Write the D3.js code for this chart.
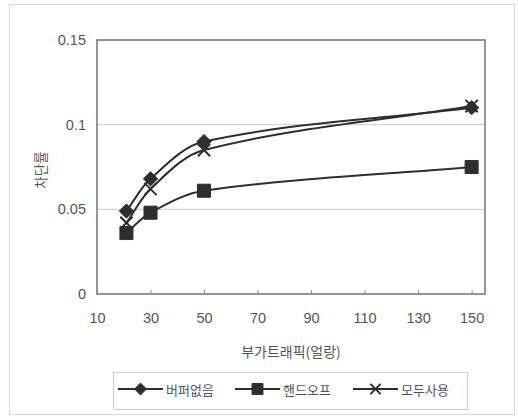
<!DOCTYPE html>
<html><head><meta charset="utf-8">
<script src="https://cdn.jsdelivr.net/npm/d3@7"></script>
<style>body{margin:0;background:#fff}svg{display:block}text{font-family:"Noto Sans CJK KR","Liberation Sans",Arial,sans-serif;fill:#555}</style>
</head><body><svg id="c" width="518" height="418"></svg>
<script>
const xValues = [21, 30, 50, 150];
const seriesNames = ["버퍼없음", "핸드오프", "모두사용"];
const noBuffer = [0.049, 0.068, 0.090, 0.110];
const handoff = [0.036, 0.048, 0.061, 0.075];
const allUsed = [0.042, 0.062, 0.085, 0.111];
const xTicks = [10, 30, 50, 70, 90, 110, 130, 150];
const yTicks = [0, 0.05, 0.1, 0.15];
const yTickLabels = ["0", "0.05", "0.1", "0.15"];
const xTitle = "부가트래픽(얼랑)";
const yTitle = "차단률";

// smoothed-line curve (chord-weighted Bezier, spreadsheet style)
function SmoothCurve(context) { this._context = context; }
SmoothCurve.prototype = {
  areaStart() {}, areaEnd() {},
  lineStart() { this._pts = []; },
  point(x, y) { this._pts.push([+x, +y]); },
  lineEnd() {
    const p = this._pts, n = p.length, c = this._context;
    if (!n) return;
    c.moveTo(p[0][0], p[0][1]);
    if (n === 1) return;
    const dist = (a, b) => Math.hypot(a[0] - b[0], a[1] - b[1]);
    const tan = i => { const a = p[Math.max(0, i - 1)], b = p[Math.min(n - 1, i + 1)]; return [b[0] - a[0], b[1] - a[1]]; };
    for (let i = 0; i < n - 1; i++) {
      const P0 = p[i], P1 = p[i + 1];
      const dPrev0 = i > 0 ? dist(p[i - 1], P0) : 0, dSeg = dist(P0, P1);
      const dNext1 = i + 2 < n ? dist(P1, p[i + 2]) : 0;
      const t0 = tan(i), t1 = tan(i + 1);
      const f0 = dSeg / (dPrev0 + dSeg) / 3, f1 = dSeg / (dSeg + dNext1) / 3;
      c.bezierCurveTo(P0[0] + t0[0] * f0, P0[1] + t0[1] * f0,
                      P1[0] - t1[0] * f1, P1[1] - t1[1] * f1, P1[0], P1[1]);
    }
  }
};
const curveSmooth = ctx => new SmoothCurve(ctx);

const svg = d3.select("#c");
const m = {l: 97, r: 485, t: 40, b: 294};
const x = d3.scaleLinear().domain([10, 155]).range([m.l, m.r]);
const y = d3.scaleLinear().domain([0, 0.15]).range([m.b, m.t]);
const numFont = "'Liberation Sans', Arial, sans-serif";

svg.append("rect").attr("x", 9.5).attr("y", 4.5).attr("width", 505).attr("height", 410)
  .attr("fill", "#fff").attr("stroke", "#d8d8d8");

svg.append("g").selectAll("line").data(yTicks.slice(1, -1)).join("line")
  .attr("x1", m.l).attr("x2", m.r).attr("y1", d => y(d)).attr("y2", d => y(d))
  .attr("stroke", "#cacaca").attr("stroke-width", 1);

svg.append("rect").attr("x", m.l).attr("y", m.t).attr("width", m.r - m.l).attr("height", m.b - m.t)
  .attr("fill", "none").attr("stroke", "#8a8a8a").attr("stroke-width", 1.8);

const xAxis = d3.axisBottom(x).tickValues(xTicks).tickSize(-4).tickPadding(19).tickFormat(d3.format("d"));
const gx = svg.append("g").attr("transform", `translate(0,${m.b})`).call(xAxis);
gx.select(".domain").remove();
gx.selectAll("line").attr("stroke", "#8a8a8a");
gx.selectAll("text").attr("font-size", 14.5).style("font-family", numFont).style("fill", "#555");

const yAxis = d3.axisLeft(y).tickValues(yTicks).tickSize(0).tickPadding(11).tickFormat((d, i) => yTickLabels[i]);
const gy = svg.append("g").attr("transform", `translate(${m.l},0)`).call(yAxis);
gy.select(".domain").remove();
gy.selectAll("text").attr("font-size", 14.5).style("font-family", numFont).style("fill", "#555");

svg.append("text").attr("x", 291).attr("y", 357).attr("text-anchor", "middle")
  .attr("font-size", 14).text(xTitle);
svg.append("text").attr("transform", "translate(40,170) rotate(-90)").attr("text-anchor", "middle")
  .attr("dominant-baseline", "central").attr("font-size", 13.5).style("fill", "#555").text(yTitle);

const line = d3.line().x((d, i) => x(xValues[i])).y(d => y(d)).curve(curveSmooth);
const data = [noBuffer, handoff, allUsed];
const col = "#2e2e2e";
const markers = [
  {type: d3.symbolDiamond2, size: 130},
  {type: d3.symbolSquare, size: 170},
  {type: d3.symbolX, size: 100}
];

data.forEach(s => {
  svg.append("path").attr("d", line(s)).attr("fill", "none").attr("stroke", col).attr("stroke-width", 2);
});
data.forEach((s, k) => {
  const mk = markers[k];
  svg.append("g").selectAll("path").data(s).join("path")
    .attr("transform", (d, i) => `translate(${x(xValues[i])},${y(d)})`)
    .attr("d", d3.symbol().type(mk.type).size(mk.size)())
    .attr("fill", mk.type === d3.symbolX ? "none" : col)
    .attr("stroke", col).attr("stroke-width", mk.type === d3.symbolX ? 2 : 1);
});

svg.append("rect").attr("x", 113.5).attr("y", 372.5).attr("width", 354).attr("height", 37)
  .attr("fill", "#fff").attr("stroke", "#cfcfcf");
const legX = [118, 235, 353];
seriesNames.forEach((n, k) => {
  const g = svg.append("g").attr("transform", `translate(${legX[k]},389)`);
  g.append("line").attr("x1", 0).attr("x2", 45).attr("stroke", col).attr("stroke-width", 2);
  const mk = markers[k];
  g.append("path").attr("transform", "translate(22.5,0)")
    .attr("d", d3.symbol().type(mk.type).size(mk.size * 0.7)())
    .attr("fill", mk.type === d3.symbolX ? "none" : col).attr("stroke", col)
    .attr("stroke-width", mk.type === d3.symbolX ? 2 : 1);
  g.append("text").attr("x", 48).attr("dominant-baseline", "central").attr("font-size", 13).text(n);
});
</script></body></html>
